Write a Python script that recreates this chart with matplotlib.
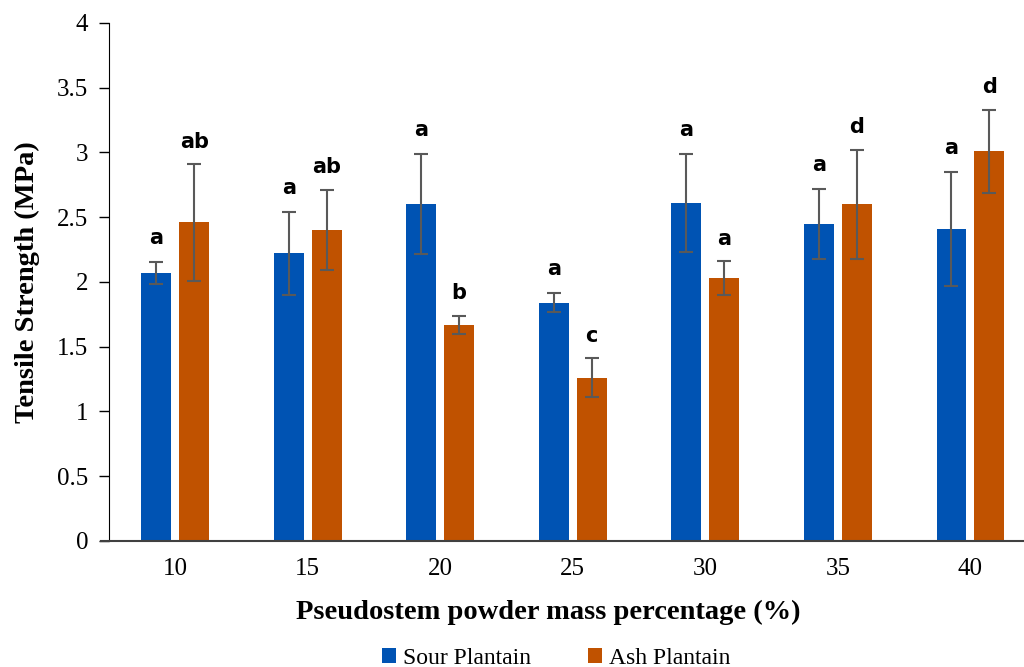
import numpy as np
import matplotlib.pyplot as plt

categories = ['10', '15', '20', '25', '30', '35', '40']
sour = [2.07, 2.22, 2.60, 1.84, 2.61, 2.45, 2.41]
sour_err = [0.085, 0.32, 0.385, 0.075, 0.38, 0.27, 0.44]
ash = [2.46, 2.40, 1.67, 1.26, 2.03, 2.60, 3.01]
ash_err = [0.45, 0.31, 0.07, 0.15, 0.13, 0.42, 0.32]
sour_letters = ['a', 'a', 'a', 'a', 'a', 'a', 'a']
ash_letters = ['ab', 'ab', 'b', 'c', 'a', 'd', 'd']

blue = '#0053B3'
orange = '#C05200'
err_color = '#595959'

fig = plt.figure(figsize=(10.24, 6.67), dpi=100)
# the category axis runs past the right edge of the picture, as in the source
ax = fig.add_axes([0.1064, 0.189, 0.906, 0.7766])

x = np.arange(len(categories))
w = 0.226
off = 0.143

ax.bar(x - off, sour, w, color=blue, label='Sour Plantain', zorder=2)
ax.bar(x + off, ash, w, color=orange, label='Ash Plantain', zorder=2)
ax.errorbar(x - off, sour, yerr=sour_err, fmt='none', ecolor=err_color,
            elinewidth=1.5, capsize=5, capthick=1.5, zorder=3)
ax.errorbar(x + off, ash, yerr=ash_err, fmt='none', ecolor=err_color,
            elinewidth=1.5, capsize=5, capthick=1.5, zorder=3)

for xi, v, e, t in zip(x - off, sour, sour_err, sour_letters):
    ax.annotate(t, (xi, v + e), xytext=(0, 10), textcoords='offset points',
                ha='center', va='bottom', fontsize=15, fontweight='bold',
                family='DejaVu Sans')
for xi, v, e, t in zip(x + off, ash, ash_err, ash_letters):
    ax.annotate(t, (xi, v + e), xytext=(0, 9), textcoords='offset points',
                ha='center', va='bottom', fontsize=15, fontweight='bold',
                family='DejaVu Sans')

ax.set_xlim(-0.5, len(categories) - 0.5)
ax.set_ylim(0, 4)
ax.set_yticks(np.arange(0, 4.01, 0.5))
ax.set_yticklabels(['0', '0.5', '1', '1.5', '2', '2.5', '3', '3.5', '4'])
ax.set_xticks(x)
ax.set_xticklabels(categories)
ax.tick_params(axis='x', length=0, pad=12, labelsize=18)
ax.tick_params(axis='y', length=7, width=1, labelsize=18, direction='out', pad=8)
for lab in ax.get_xticklabels() + ax.get_yticklabels():
    lab.set_family('Liberation Serif')

ax.spines['top'].set_visible(False)
ax.spines['right'].set_visible(False)
ax.spines['left'].set_color('black')
ax.spines['bottom'].set_color('#404040')
ax.spines['bottom'].set_linewidth(1.5)
ax.spines['bottom'].set_bounds(-0.56, len(categories) - 0.5)
ax.spines['bottom'].set_clip_on(False)

ax.set_xlabel('Pseudostem powder mass percentage (%)', fontsize=20.5,
              fontweight='bold', family='Liberation Serif')
ax.xaxis.set_label_coords(0.474, -0.113)
ax.set_ylabel('Tensile Strength (MPa)', fontsize=20.5, fontweight='bold',
              family='Liberation Serif', labelpad=12)

leg = ax.legend(loc='upper center', bbox_to_anchor=(0.482, -0.165), ncol=2,
                frameon=False, prop={'family': 'Liberation Serif', 'size': 17},
                handlelength=0.6, handleheight=0.6, handletextpad=0.3,
                columnspacing=2.4)

fig.savefig('out.png', dpi=100)
